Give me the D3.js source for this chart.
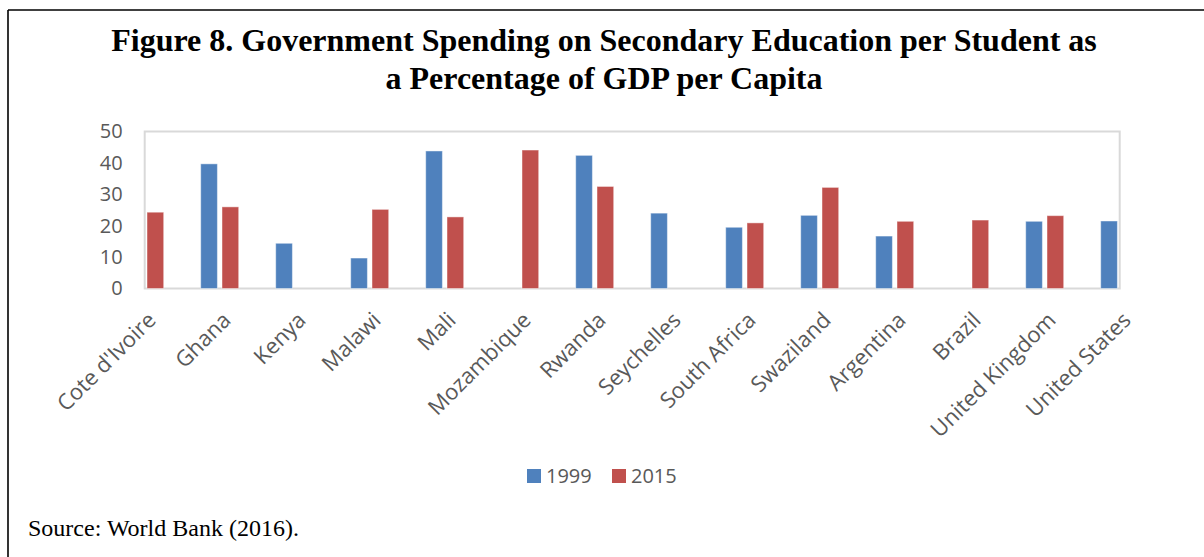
<!DOCTYPE html>
<html>
<head>
<meta charset="utf-8">
<script src="https://cdn.jsdelivr.net/npm/d3@7"></script>
<style>
  html, body { margin: 0; padding: 0; background: #fff; }
  svg { display: block; }
</style>
</head>
<body>
<svg id="chart" width="1204" height="557"></svg>
<script>
const categories = ["Cote d'Ivoire", "Ghana", "Kenya", "Malawi", "Mali", "Mozambique", "Rwanda",
  "Seychelles", "South Africa", "Swaziland", "Argentina", "Brazil", "United Kingdom", "United States"];
const seriesNames = ["1999", "2015"];
const values1999 = [null, 39.7, 14.4, 9.7, 43.8, null, 42.4, 24.0, 19.5, 23.3, 16.7, null, 21.4, 21.5];
const values2015 = [24.3, 26.0, null, 25.2, 22.8, 44.1, 32.5, null, 20.9, 32.2, 21.4, 21.8, 23.2, null];
const yTicks = [0, 10, 20, 30, 40, 50];
const titleLines = ["Figure 8. Government Spending on Secondary Education per Student as",
  "a Percentage of GDP per Capita"];
const sourceText = "Source: World Bank (2016).";

const colors = { "1999": "#4f81bd", "2015": "#c0504d" };
const svg = d3.select("#chart");

// frame (left and top rules)
svg.append("line").attr("x1", 8).attr("y1", 10).attr("x2", 1204).attr("y2", 10)
  .attr("stroke", "#000").attr("stroke-width", 1.6);
svg.append("line").attr("x1", 8).attr("y1", 10).attr("x2", 8).attr("y2", 557)
  .attr("stroke", "#000").attr("stroke-width", 1.6);

// title
svg.selectAll("text.title").data(titleLines).join("text")
  .attr("class", "title")
  .attr("x", 604).attr("y", (d, i) => 51 + i * 38)
  .attr("text-anchor", "middle")
  .attr("font-family", "'Liberation Serif', 'Times New Roman', serif")
  .attr("font-weight", "bold").attr("font-size", 32)
  .attr("fill", "#000")
  .text(d => d);

const plot = { left: 144.7, right: 1119.7, top: 131.5, bottom: 288.5 };

const x = d3.scalePoint().domain(categories).range([plot.left, plot.right]).padding(0);
const xs = d3.scaleBand().domain(seriesNames).range([-19, 19]).paddingInner(0.216).paddingOuter(0);
const y = d3.scaleLinear().domain([0, 50]).range([plot.bottom, plot.top]);

// plot area border
svg.append("rect")
  .attr("x", plot.left).attr("y", plot.top)
  .attr("width", plot.right - plot.left).attr("height", plot.bottom - plot.top)
  .attr("fill", "none").attr("stroke", "#d9d9d9").attr("stroke-width", 2);

// y axis labels
const yAxis = d3.axisLeft(y).tickValues(yTicks).tickSize(0).tickPadding(22);
const gy = svg.append("g").attr("transform", `translate(${plot.left},0)`).call(yAxis);
gy.select(".domain").remove();
gy.selectAll("text")
  .attr("font-family", "'Open Sans', sans-serif").attr("font-size", 20).attr("fill", "#595959");

// bars
const rows = categories.map((c, i) => ({ c, v: { "1999": values1999[i], "2015": values2015[i] } }));
const g = svg.append("g");
seriesNames.forEach(s => {
  g.selectAll(null).data(rows.filter(r => r.v[s] != null)).join("rect")
    .attr("x", r => x(r.c) + xs(s))
    .attr("y", r => y(r.v[s]))
    .attr("width", xs.bandwidth())
    .attr("height", r => y(0) - y(r.v[s]))
    .attr("fill", colors[s])
    .attr("stroke", "rgba(255,255,255,0.45)")
    .attr("stroke-width", 1);
});

// x axis labels
const xAxis = d3.axisBottom(x).tickSize(0).tickPadding(0);
const gx = svg.append("g").attr("transform", `translate(0,${plot.bottom})`).call(xAxis);
gx.select(".domain").remove();
gx.selectAll(".tick text")
  .attr("font-family", "'Open Sans', sans-serif").attr("font-size", 22).attr("fill", "#595959")
  .attr("text-anchor", "end")
  .attr("y", 0).attr("dy", 0)
  .attr("transform", "translate(12,33) rotate(-45)");

// legend
const leg = svg.append("g").attr("transform", "translate(527,469)");
const legX = { "1999": 0, "2015": 85 };
seriesNames.forEach(s => {
  leg.append("rect").attr("x", legX[s]).attr("y", 0).attr("width", 14).attr("height", 14)
    .attr("fill", colors[s]);
  leg.append("text").attr("x", legX[s] + 19).attr("y", 14)
    .attr("font-family", "'Open Sans', sans-serif").attr("font-size", 20).attr("fill", "#595959")
    .text(s);
});

// source
svg.append("text").attr("x", 28).attr("y", 536)
  .attr("font-family", "'Liberation Serif', 'Times New Roman', serif")
  .attr("font-size", 24).attr("fill", "#000")
  .text(sourceText);
</script>
</body>
</html>
